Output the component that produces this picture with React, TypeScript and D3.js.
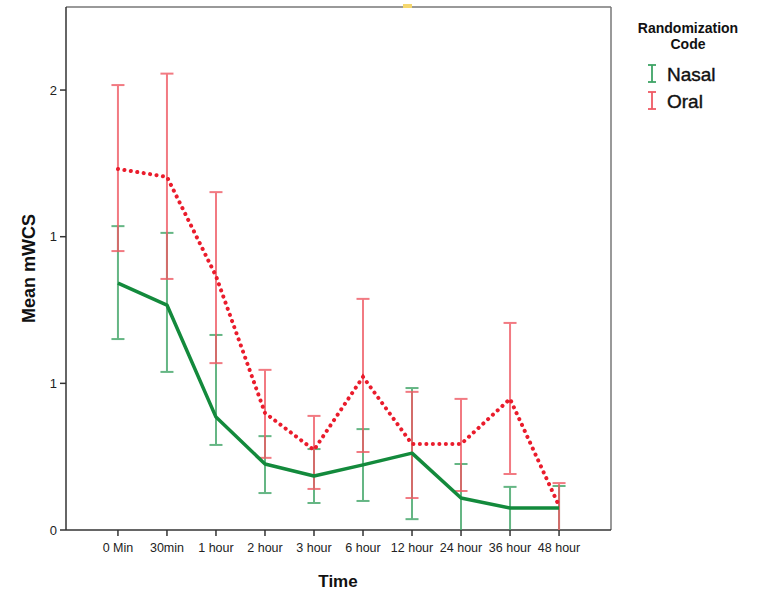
import * as d3 from "d3";

const categories = [
  "0 Min", "30min", "1 hour", "2 hour", "3 hour",
  "6 hour", "12 hour", "24 hour", "36 hour", "48 hour",
];

const nasalMean = [0.842, 0.767, 0.385, 0.225, 0.184, 0.222, 0.262, 0.109, 0.075, 0.075];
const nasalUpper = [1.036, 1.013, 0.665, 0.32, 0.276, 0.344, 0.484, 0.225, 0.147, 0.15];
const nasalLower = [0.651, 0.539, 0.29, 0.126, 0.092, 0.099, 0.037, -0.02, -0.02, -0.02];

const oralMean = [1.231, 1.204, 0.866, 0.399, 0.273, 0.522, 0.293, 0.293, 0.447, 0.082];
const oralUpper = [1.517, 1.556, 1.152, 0.546, 0.389, 0.788, 0.471, 0.447, 0.706, 0.16];
const oralLower = [0.951, 0.856, 0.569, 0.246, 0.14, 0.266, 0.109, 0.133, 0.191, -0.02];

const yTicks = [0, 0.5, 1, 1.5];
const yTickLabels = ["0", "1", "1", "2"];

const W = 765;
const H = 595;
const left = 66;
const right = 611;
const top = 7;
const bottom = 530;
const font = "Arial, 'Liberation Sans', sans-serif";

const green = "#138a3c";
const greenBar = "#3fa466";
const red = "#ea1c2c";
const redBar = "#ef5a64";

export default function App() {
  const x = d3.scalePoint<string>().domain(categories).range([left, right]).padding(1.06);
  const y = d3.scaleLinear().domain([0, (bottom - top) / 293.3]).range([bottom, top]);

  const line = d3
    .line<number>()
    .x((_, i) => x(categories[i]) ?? 0)
    .y((d) => y(d));

  const cap = 6.5;

  const errorBars = (upper: number[], lower: number[], color: string, key: string) =>
    categories.map((c, i) => {
      const cx = x(c) ?? 0;
      const yu = y(upper[i]);
      const yl = Math.min(y(lower[i]), bottom);
      const showLowerCap = lower[i] >= 0;
      return (
        <g key={`${key}-${i}`} stroke={color} strokeWidth={2} opacity={0.8}>
          <line x1={cx} x2={cx} y1={yu} y2={yl} />
          <line x1={cx - cap} x2={cx + cap} y1={yu} y2={yu} />
          {showLowerCap && <line x1={cx - cap} x2={cx + cap} y1={yl} y2={yl} />}
        </g>
      );
    });

  return (
    <svg width={W} height={H} style={{ position: "absolute", left: 0, top: 0 }} fontFamily={font}>
      <rect width={W} height={H} fill="#fff" />
      <defs>
        <clipPath id="plotClip">
          <rect x={left} y={top} width={right - left} height={bottom - top} />
        </clipPath>
      </defs>

      {/* frame */}
      <line x1={left} x2={right} y1={top} y2={top} stroke="#777" strokeWidth={1.5} />
      <line x1={right} x2={right} y1={top} y2={bottom} stroke="#777" strokeWidth={1.5} />
      <line x1={left} x2={left} y1={top} y2={bottom} stroke="#333" strokeWidth={1.5} />
      <line x1={left} x2={right} y1={bottom} y2={bottom} stroke="#333" strokeWidth={1.5} />
      <rect x={403} y={4} width={9} height={4} fill="#f5d76e" />

      <g clipPath="url(#plotClip)">
        {errorBars(nasalUpper, nasalLower, greenBar, "n")}
        {errorBars(oralUpper, oralLower, redBar, "o")}
        <path d={line(nasalMean) ?? ""} fill="none" stroke={green} strokeWidth={3.5} strokeLinejoin="round" />
        <path
          d={line(oralMean) ?? ""}
          fill="none"
          stroke={red}
          strokeWidth={4}
          strokeDasharray="0.1 6.4"
          strokeLinecap="round"
        />
      </g>

      {/* y axis */}
      {yTicks.map((t, i) => (
        <g key={`yt-${i}`}>
          <line x1={left - 6} x2={left} y1={y(t)} y2={y(t)} stroke="#333" strokeWidth={1.5} />
          <text x={left - 9} y={y(t)} dy="0.35em" textAnchor="end" fontSize={13} fill="#222">
            {yTickLabels[i]}
          </text>
        </g>
      ))}

      {/* x axis */}
      {categories.map((c) => (
        <g key={`xt-${c}`}>
          <line x1={x(c)} x2={x(c)} y1={bottom} y2={bottom + 6} stroke="#333" strokeWidth={1.5} />
          <text x={x(c)} y={bottom + 22} textAnchor="middle" fontSize={12.5} fill="#222">
            {c}
          </text>
        </g>
      ))}

      <text x={338} y={587} textAnchor="middle" fontSize={17} fontWeight="bold" fill="#111">
        Time
      </text>
      <text
        transform={`translate(35,${(top + bottom) / 2}) rotate(-90)`}
        textAnchor="middle"
        fontSize={18}
        fontWeight="bold"
        fill="#111"
      >
        Mean mWCS
      </text>

      {/* legend */}
      <text x={688} y={33} textAnchor="middle" fontSize={14} fontWeight="bold" fill="#111">
        Randomization
      </text>
      <text x={688} y={49} textAnchor="middle" fontSize={14} fontWeight="bold" fill="#111">
        Code
      </text>
      {[
        { label: "Nasal", color: greenBar, yy: 74 },
        { label: "Oral", color: redBar, yy: 101 },
      ].map((d) => (
        <g key={d.label}>
          <g stroke={d.color} strokeWidth={1.8}>
            <line x1={652} x2={652} y1={d.yy - 9} y2={d.yy + 8} />
            <line x1={648} x2={656} y1={d.yy - 9} y2={d.yy - 9} />
            <line x1={648} x2={656} y1={d.yy + 8} y2={d.yy + 8} />
          </g>
          <text x={667} y={d.yy} dy="0.35em" fontSize={19} fill="#111" stroke="#111" strokeWidth={0.4}>
            {d.label}
          </text>
        </g>
      ))}
    </svg>
  );
}
